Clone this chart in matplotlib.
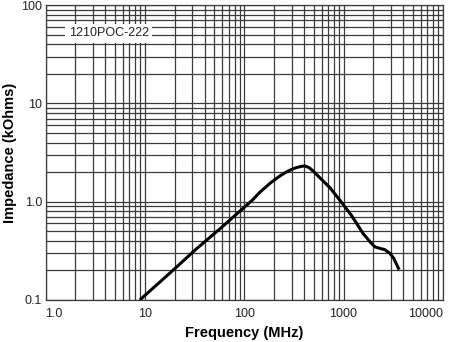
import numpy as np
import matplotlib.pyplot as plt
from matplotlib.ticker import FixedLocator, NullFormatter

plt.rcParams['font.family'] = ['Liberation Sans', 'DejaVu Sans']

# Impedance curve (MHz, kOhms)
freq_mhz = [8.9, 20, 32, 57, 90.5, 120, 144, 185, 229, 265, 300, 335, 363, 390, 412,
            450, 494, 578, 728, 950, 1203, 1575, 1850, 2065, 2317, 2600, 2924, 3200, 3625]
impedance_kohm = [0.1, 0.208, 0.322, 0.53, 0.80, 1.03, 1.25, 1.56, 1.83, 2.0, 2.13, 2.22, 2.27, 2.30, 2.30,
                  2.22, 2.05, 1.75, 1.39, 0.99, 0.723, 0.473, 0.39, 0.347, 0.335, 0.325, 0.298, 0.265, 0.203]

x_ticks = [1, 10, 100, 1000, 10000]
x_labels = ['1.0', '10', '100', '1000', '10000']
y_ticks = [0.1, 1, 10, 100]
y_labels = ['0.1', '1.0', '10', '100']
part_name = '1210POC-222'

fig = plt.figure(figsize=(4.51, 3.42), dpi=100)
ax = fig.add_axes([0.101, 0.123, 0.881, 0.862])

ax.set_xscale('log')
ax.set_yscale('log')
ax.set_xlim(1, 10000)
ax.set_ylim(0.1, 100)

# gridlines at every 1..9 per decade
xmin = [m * 10.0 ** d for d in range(0, 4) for m in range(2, 10)]
ymin = [m * 10.0 ** d for d in range(-1, 2) for m in range(2, 10)]
ax.xaxis.set_major_locator(FixedLocator(x_ticks))
ax.yaxis.set_major_locator(FixedLocator(y_ticks))
ax.xaxis.set_minor_locator(FixedLocator(xmin))
ax.yaxis.set_minor_locator(FixedLocator(ymin))
ax.xaxis.set_minor_formatter(NullFormatter())
ax.yaxis.set_minor_formatter(NullFormatter())
ax.set_xticklabels(x_labels)
ax.set_yticklabels(y_labels)
ax.grid(True, which='both', color='#3a3a3a', linewidth=0.9)
ax.tick_params(which='both', length=0, labelsize=9, colors='#222222')
ax.tick_params(axis='x', pad=6)
ax.tick_params(axis='y', pad=2.5)
xl = ax.get_xticklabels()
xl[0].set_horizontalalignment('left')
xl[-1].set_horizontalalignment('right')
for s in ax.spines.values():
    s.set_color('#3a3a3a')
    s.set_linewidth(0.9)

ax.plot(freq_mhz, impedance_kohm, color='black', linewidth=2.2,
        solid_capstyle='butt', solid_joinstyle='round', zorder=5)

ax.text(0.058, 0.905, part_name, transform=ax.transAxes, fontsize=9, color='#222222',
        ha='left', va='center', zorder=6,
        bbox=dict(facecolor='white', edgecolor='none', pad=2.5))

ax.set_xlabel('Frequency (MHz)', fontsize=10.5, fontweight='bold', labelpad=4)
ax.set_ylabel('Impedance (kOhms)', fontsize=10.5, fontweight='bold', labelpad=3)

fig.savefig('out.png', dpi=100)
